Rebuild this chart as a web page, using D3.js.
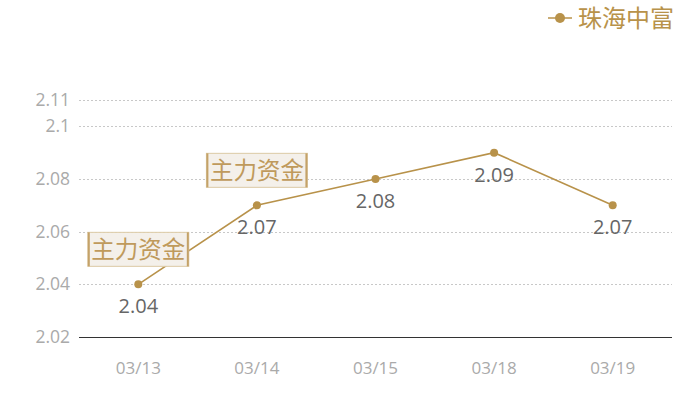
<!DOCTYPE html>
<html><head><meta charset="utf-8">
<script src="https://cdn.jsdelivr.net/npm/d3@7/dist/d3.min.js"></script>
<style>
body{margin:0;background:#fff;}
svg{display:block;font-family:"Noto Sans CJK SC","Noto Sans",sans-serif;}
</style></head>
<body><svg id="c" width="700" height="400"></svg>
<script>
const categories = ["03/13","03/14","03/15","03/18","03/19"];
const values = [2.04, 2.07, 2.08, 2.09, 2.07];
const yTicks = [2.02, 2.04, 2.06, 2.08, 2.1, 2.11];
const seriesName = "珠海中富";
const annotations = [{cat:"03/13", val:2.04, text:"主力资金"}, {cat:"03/14", val:2.07, text:"主力资金"}];

const gold = "#b8924a";
const numFont = "'Open Sans','Noto Sans',sans-serif";
const svg = d3.select("#c");
const m = {l:79, r:28, t:100, b:63};
const W = 700, H = 400;
const x = d3.scaleBand().domain(categories).range([m.l, W - m.r]);
const y = d3.scaleLinear().domain([2.02, 2.11]).range([H - m.b, m.t]);

// grid
svg.append("g").selectAll("line").data(yTicks.filter(d => d > 2.02)).join("line")
  .attr("x1", m.l).attr("x2", W - m.r)
  .attr("y1", d => Math.round(y(d)) + 0.5).attr("y2", d => Math.round(y(d)) + 0.5)
  .attr("stroke", "#c8c8c8").attr("stroke-dasharray", "2,2");

// y axis labels
const ya = svg.append("g").attr("transform", `translate(${m.l},0)`)
  .call(d3.axisLeft(y).tickValues(yTicks).tickFormat(d => String(+d.toFixed(2))).tickSize(0).tickPadding(9));
ya.select(".domain").remove();
ya.selectAll("text").attr("fill", "#aaa").style("font-size", "17.5px").style("font-family", numFont);

// x axis
const xa = svg.append("g").attr("transform", `translate(0,${y(2.02)})`)
  .call(d3.axisBottom(x).tickSize(0).tickPadding(25));
xa.select(".domain").attr("stroke", "#333").attr("d", `M${m.l},0.5H${W - m.r}`);
xa.selectAll("text").attr("fill", "#aaa").style("font-size", "17px").style("font-family", numFont);

const cx = c => x(c) + x.bandwidth() / 2;

// line
const data = categories.map((c, i) => ({c, v: values[i]}));
svg.append("path").datum(data)
  .attr("d", d3.line().x(d => cx(d.c)).y(d => y(d.v)))
  .attr("fill", "none").attr("stroke", gold).attr("stroke-width", 1.6);

svg.append("g").selectAll("circle").data(data).join("circle")
  .attr("cx", d => cx(d.c)).attr("cy", d => y(d.v)).attr("r", 4).attr("fill", gold);

svg.append("g").selectAll("text").data(data).join("text")
  .attr("x", d => cx(d.c)).attr("y", d => y(d.v) + 29)
  .attr("text-anchor", "middle").attr("fill", "#666")
  .style("font-size", "20px").style("font-family", numFont)
  .text(d => d.v.toFixed(2));

// annotations
annotations.forEach(a => {
  const px = cx(a.cat), py = y(a.val);
  const w = 101, h = 34;
  const g = svg.append("g").attr("transform", `translate(${px - w/2},${py - 18 - h})`);
  g.append("rect").attr("width", w).attr("height", h).attr("fill", "#f4f0ea")
    .attr("stroke", "#dcc9a4").attr("stroke-width", 1);
  g.append("line").attr("x1", 1).attr("x2", 1).attr("y1", 0).attr("y2", h).attr("stroke", "#c4a268").attr("stroke-width", 2);
  g.append("line").attr("x1", w - 1).attr("x2", w - 1).attr("y1", 0).attr("y2", h).attr("stroke", "#c4a268").attr("stroke-width", 2);
  g.append("text").attr("x", w/2).attr("y", h/2 + 8.5).attr("text-anchor", "middle")
    .attr("fill", "#bf9a5c").style("font-size", "23.5px").text(a.text);
});

// legend
const lg = svg.append("g").attr("transform", "translate(548,18)");
lg.append("line").attr("x1", 0).attr("x2", 24).attr("y1", 0).attr("y2", 0).attr("stroke", gold).attr("stroke-width", 1.5);
lg.append("circle").attr("cx", 12).attr("cy", 0).attr("r", 5).attr("fill", gold);
lg.append("text").attr("x", 30).attr("y", 9).attr("fill", gold).style("font-size", "24px").text(seriesName);
</script></body></html>
